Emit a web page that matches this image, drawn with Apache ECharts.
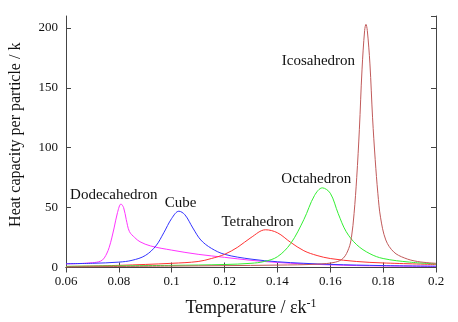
<!DOCTYPE html>
<html>
<head>
<meta charset="utf-8">
<script src="https://cdn.jsdelivr.net/npm/echarts@6/dist/echarts.min.js"></script>
<style>
  html, body { margin: 0; padding: 0; background: #fff; }
  #chart { width: 458px; height: 322px; }
</style>
</head>
<body>
<div id="chart"></div>
<script>
// temperature (eps/k) vs heat capacity per particle
var dodecaT = [0.06, 0.065, 0.07, 0.073, 0.0745, 0.0763, 0.0782, 0.0795, 0.0808, 0.0818, 0.0828, 0.084, 0.086, 0.088, 0.092, 0.1, 0.11, 0.12, 0.13, 0.14, 0.15, 0.16, 0.17, 0.18, 0.2]
var dodecaC = [3.0, 3.3, 4.0, 5.2, 8, 16.5, 33, 46, 53, 50, 40, 30, 25, 21.5, 18, 14.5, 11, 8.5, 6, 4.2, 3, 2.2, 1.6, 1.3, 0.9]

var cubeT = [0.06, 0.07, 0.08, 0.085, 0.09, 0.094, 0.097, 0.1, 0.1027, 0.105, 0.108, 0.111, 0.115, 0.12, 0.13, 0.14, 0.15, 0.16, 0.18, 0.2]
var cubeC = [3.2, 3.5, 4.5, 6, 10, 18, 29, 41, 47, 44, 33, 23, 16, 11, 7, 4.8, 3.5, 2.6, 1.6, 1.1]

var tetraT = [0.06, 0.08, 0.1, 0.11, 0.115, 0.12, 0.125, 0.13, 0.1355, 0.14, 0.145, 0.15, 0.155, 0.16, 0.17, 0.18, 0.2]
var tetraC = [0.8, 1.8, 3.5, 5, 7.5, 11, 17, 25, 31.5, 29, 21, 14, 10, 7.5, 5, 3.8, 2.5]

var octaT = [0.06, 0.1, 0.12, 0.13, 0.135, 0.14, 0.145, 0.15, 0.154, 0.157, 0.16, 0.163, 0.166, 0.17, 0.175, 0.18, 0.19, 0.2]
var octaC = [1.0, 1.8, 2.5, 3.5, 5, 9, 20, 40, 60, 66.5, 62, 45, 30, 19, 11.5, 7.5, 4.5, 3]

var icosaT = [0.06, 0.1, 0.14, 0.155, 0.162, 0.165, 0.167, 0.168, 0.169, 0.17, 0.171, 0.172, 0.173, 0.1735, 0.174, 0.175, 0.176, 0.177, 0.178, 0.179, 0.181, 0.184, 0.188, 0.193, 0.2]
var icosaC = [0.5, 1.2, 2.0, 2.8, 4.5, 8, 16, 25, 45, 75, 115, 165, 198, 203, 198, 170, 125, 90, 62, 42, 23, 13, 8, 5, 3.5]

// label anchors [T, C]
var names = ['Dodecahedron', 'Cube', 'Tetrahedron', 'Octahedron', 'Icosahedron']
var labelAt = [[0.0781, 60.3], [0.1034, 53.7], [0.1325, 38], [0.1547, 73.5], [0.1555, 172.7]]
var colors = ['#ff33ff', '#3333ff', '#ff3333', '#33ee33', '#c05a5a']

var xTicks = { min: 0.06, max: 0.2, interval: 0.02 }
var yTicks = { min: 0, max: 210, interval: 50 }

var font = 'Liberation Serif'

function pairs(t, c) {
  return t.map(function(v, i) { return [v, c[i]] })
}

var allData = [
  pairs(dodecaT, dodecaC),
  pairs(cubeT, cubeC),
  pairs(tetraT, tetraC),
  pairs(octaT, octaC),
  pairs(icosaT, icosaC)
]

var series = allData.map(function(d, i) {
  return {
    name: names[i],
    type: 'line',
    data: d,
    smooth: 0.35,
    showSymbol: false,
    lineStyle: { width: 1, color: colors[i] },
    itemStyle: { color: colors[i] },
    markPoint: {
      symbol: 'circle',
      symbolSize: 0,
      data: [{ coord: labelAt[i] }],
      label: {
        show: true,
        position: 'inside',
        formatter: names[i],
        fontFamily: font,
        fontSize: 15,
        color: '#111'
      }
    }
  }
})

var axisLine = { show: true, lineStyle: { color: '#444', width: 1 } }

var chart = echarts.init(document.getElementById('chart'))
chart.setOption({
  animation: false,
  backgroundColor: '#fff',
  grid: { left: 65, right: 22, top: 16, bottom: 52 },
  xAxis: [{
    type: 'value',
    min: xTicks.min,
    max: xTicks.max,
    interval: xTicks.interval,
    name: '{t|Temperature / εk}{s|-1}',
    nameLocation: 'middle',
    nameGap: 30,
    nameTextStyle: {
      rich: {
        t: { fontFamily: font, fontSize: 18, color: '#111' },
        s: { fontFamily: font, fontSize: 12, color: '#111', verticalAlign: 'bottom', padding: [0, 0, 9, 0] }
      }
    },
    axisLine: axisLine,
    axisTick: { inside: true, length: 5, lineStyle: { color: '#444' } },
    axisLabel: { fontFamily: font, fontSize: 13, color: '#111', margin: 8 },
    splitLine: { show: false }
  }, {
    type: 'value',
    position: 'top',
    min: xTicks.min,
    max: xTicks.max,
    interval: xTicks.interval,
    axisLine: axisLine,
    axisTick: { inside: true, length: 5, lineStyle: { color: '#444' } },
    axisLabel: { show: false },
    splitLine: { show: false }
  }],
  yAxis: [{
    type: 'value',
    min: yTicks.min,
    max: yTicks.max,
    interval: yTicks.interval,
    name: 'Heat capacity per particle / k',
    nameLocation: 'middle',
    nameGap: 42,
    nameTextStyle: { fontFamily: font, fontSize: 16, color: '#111', padding: [0, 0, 0, 14] },
    axisLine: axisLine,
    axisTick: { inside: true, length: 5, lineStyle: { color: '#444' } },
    axisLabel: { fontFamily: font, fontSize: 13, color: '#111', margin: 8, showMaxLabel: false },
    splitLine: { show: false }
  }, {
    type: 'value',
    position: 'right',
    min: yTicks.min,
    max: yTicks.max,
    interval: yTicks.interval,
    axisLine: axisLine,
    axisTick: { inside: true, length: 5, lineStyle: { color: '#444' } },
    axisLabel: { show: false },
    splitLine: { show: false }
  }],
  series: series
})
</script>
</body>
</html>
